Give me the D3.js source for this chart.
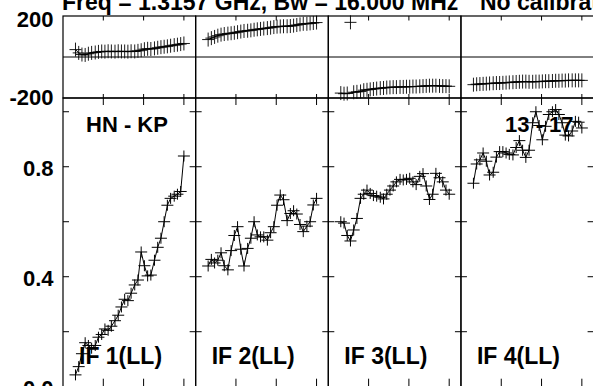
<!DOCTYPE html>
<html><head><meta charset="utf-8">
<script src="https://cdn.jsdelivr.net/npm/d3@7"></script>
<style>
html,body{margin:0;padding:0;background:#fff;overflow:hidden}
svg{display:block}
text{font-family:"Liberation Sans",Arial,Helvetica,sans-serif;font-weight:bold;fill:#000}
</style></head><body>
<svg id="c" width="593" height="386"></svg>
<script>
// ---------------- data ----------------
const titleText = "Freq = 1.3157 GHz, Bw = 16.000 MHz";
const calText = "No calibration";
const baselineLabel = "HN - KP";
const rangeLabel = "13 - 17";
const ifLabels = ["IF 1(LL)", "IF 2(LL)", "IF 3(LL)", "IF 4(LL)"];

const times = [0.31,0.39,0.47,0.55,0.63,0.71,0.80,0.88,0.96,1.04,1.12,1.20,1.29,1.37,1.45,1.53,1.61,
               1.69,1.78,1.86,1.94,2.02,2.10,2.18,2.27,2.35,2.43,2.51,2.59,2.67,2.76,2.84,2.92,3.00];

const amp1 = [0.043,0.073,0.12,0.16,0.15,0.14,0.15,0.18,0.19,0.21,0.205,0.22,0.24,0.26,0.29,0.318,0.313,
              0.34,0.37,0.388,0.49,0.44,0.403,0.406,0.46,0.507,0.54,0.60,0.66,0.685,0.693,0.70,0.71,0.839];
const amp2 = [0.439,0.463,0.45,0.46,0.487,0.44,0.425,0.495,0.55,0.582,0.50,0.439,0.503,0.54,0.60,0.552,0.545,
              0.545,0.533,0.56,0.582,0.66,0.697,0.68,0.604,0.63,0.64,0.628,0.59,0.564,0.584,0.60,0.661,0.685];
const amp3 = [0.60,0.595,0.55,0.53,0.57,0.612,0.685,0.70,0.715,0.703,0.695,0.693,0.689,0.683,0.70,0.715,0.73,
              0.745,0.754,0.752,0.754,0.758,0.745,0.735,0.765,0.775,0.73,0.681,0.70,0.776,0.76,0.745,0.715,0.70];
const amp4 = [0.74,0.81,0.825,0.85,0.82,0.77,0.78,0.835,0.855,0.855,0.85,0.845,0.843,0.87,0.895,0.86,0.834,
              0.86,0.96,1.0,0.95,0.898,0.947,0.99,1.0,1.008,0.99,0.96,0.915,0.912,0.93,0.965,0.962,0.941];

const phase1 = [36,20,12,10,16,20,22,25,27,26,28,27,26,28,27,27,26,28,27,30,33,38,40,39,42,45,48,50,52,55,58,60,63,66];
const phase2 = [85,92,98,104,109,112,114,116,118,121,124,127,128,130,133,135,137,139,141,143,146,148,149,150,150,151,
                153,156,159,162,162,164,166,168];
const phase3 = [-176,-179,-178,169,-172,-170,-168,-162,-160,-158,-156,-154,-152,-151,-149,-148,-147,-147,-146,-146,
                -145,-145,-144,-144,-143,-142,-141,-140,-140,-140,-141,-142,-142,-143];
const phase4 = [-135,-133,-132,-131,-130,-129,-128,-127,-127,-126,-125,-124,-123,-122,-121,-120,-120,-121,-121,-120,
                -120,-119,-118,-118,-117,-116,-116,-115,-115,-114,-114,-114,-114,-114];

const ampSeries = [amp1, amp2, amp3, amp4];
const phaseSeries = [phase1, phase2, phase3, phase4];

const ampTicks = [0, 0.2, 0.4, 0.6, 0.8, 1.0];
const ampTickLabels = [{v: 0, t: "0.0"}, {v: 0.4, t: "0.4"}, {v: 0.8, t: "0.8"}];
const phaseTickLabels = [{v: 200, t: "200"}, {v: -200, t: "-200"}];
const timeTicks = [1, 2, 3];

// ---------------- layout ----------------
const left = 63, right = 593.6, nCols = 4;
const colW = (right - left) / nCols;
const phTop = 16, phBot = 98, ampBot = 386.7;
const svg = d3.select("#c");

const yAmp = d3.scaleLinear().domain([0, 1.05]).range([ampBot, phBot]);
const yPh = d3.scaleLinear().domain([-200, 200]).range([phBot, phTop]);

// title
svg.append("text").attr("x", 62).attr("y", 10).attr("font-size", 23).text(titleText);
svg.append("text").attr("x", 480).attr("y", 10).attr("font-size", 23).text(calText);

// y tick labels
svg.selectAll("text.al").data(ampTickLabels).join("text").attr("class", "al")
  .attr("x", 53.5).attr("y", d => yAmp(d.v) + 9.3).attr("text-anchor", "end")
  .attr("font-size", 22).text(d => d.t);
svg.selectAll("text.pl").data(phaseTickLabels).join("text").attr("class", "pl")
  .attr("x", 53.5).attr("y", d => yPh(d.v) + (d.v > 0 ? 11.3 : 7.3)).attr("text-anchor", "end")
  .attr("font-size", 22).text(d => d.t);

for (let c = 0; c < nCols; c++) {
  const x0 = left + c * colW, x1 = x0 + colW;
  const x = d3.scaleLinear().domain([0, colW / 40.3]).range([x0, x1]);
  const g = svg.append("g");

  // frames
  g.append("rect").attr("x", x0).attr("y", phTop).attr("width", colW).attr("height", phBot - phTop)
    .attr("fill", "none").attr("stroke", "#000").attr("stroke-width", 1.2);
  g.append("rect").attr("x", x0).attr("y", phBot).attr("width", colW).attr("height", ampBot - phBot)
    .attr("fill", "none").attr("stroke", "#000").attr("stroke-width", 1.2);
  // zero phase line
  g.append("line").attr("x1", x0).attr("x2", x1).attr("y1", yPh(0)).attr("y2", yPh(0))
    .attr("stroke", "#000").attr("stroke-width", 1);

  // x ticks
  timeTicks.forEach(t => {
    const xx = x(t);
    [[phTop, 4.5], [phBot, -4], [phBot, 7], [ampBot, -8]].forEach(([yy, len]) => {
      g.append("line").attr("x1", xx).attr("x2", xx).attr("y1", yy).attr("y2", yy + len)
        .attr("stroke", "#000").attr("stroke-width", 1);
    });
  });
  // y ticks (amp) on both sides
  ampTicks.forEach(v => {
    const yy = yAmp(v);
    g.append("line").attr("x1", x0).attr("x2", x0 + 6).attr("y1", yy).attr("y2", yy).attr("stroke", "#000");
    g.append("line").attr("x1", x1 - 6).attr("x2", x1).attr("y1", yy).attr("y2", yy).attr("stroke", "#000");
  });

  // phase data
  const ph = phaseSeries[c].map((p, i) => ({t: times[i], v: p}));
  const phLine = [];
  ph.forEach(d => {
    if (!phLine.length || Math.abs(d.v - phLine[phLine.length - 1].v) <= 180) phLine.push(d);
  });
  g.append("path").attr("d", d3.line().x(d => x(d.t)).y(d => yPh(d.v))(phLine))
    .attr("fill", "none").attr("stroke", "#000").attr("stroke-width", 1);
  g.append("path").attr("d", ph.map(d => {
      const px = x(d.t), py = yPh(d.v);
      return `M${px - 6},${py}h12M${px},${py - 7}v14`;
    }).join(""))
    .attr("fill", "none").attr("stroke", "#000").attr("stroke-width", 0.9);

  // amplitude data
  const am = ampSeries[c].map((a, i) => ({t: times[i], v: a}));
  g.append("path").attr("d", d3.line().x(d => x(d.t)).y(d => yAmp(d.v))(am))
    .attr("fill", "none").attr("stroke", "#000").attr("stroke-width", 1);
  g.append("path").attr("d", am.map(d => {
      const px = x(d.t), py = yAmp(d.v);
      return `M${px - 6},${py}h12M${px},${py - 5.5}v11`;
    }).join(""))
    .attr("fill", "none").attr("stroke", "#000").attr("stroke-width", 1);

  // IF label
  g.append("text").attr("x", x0 + 16).attr("y", 364).attr("font-size", 23).text(ifLabels[c]);
}

svg.append("text").attr("x", left + 23).attr("y", 131.7).attr("font-size", 22).text(baselineLabel);
svg.append("text").attr("x", right - 20).attr("y", 131.7).attr("text-anchor", "end")
  .attr("font-size", 22).text(rangeLabel);
</script>
</body></html>
